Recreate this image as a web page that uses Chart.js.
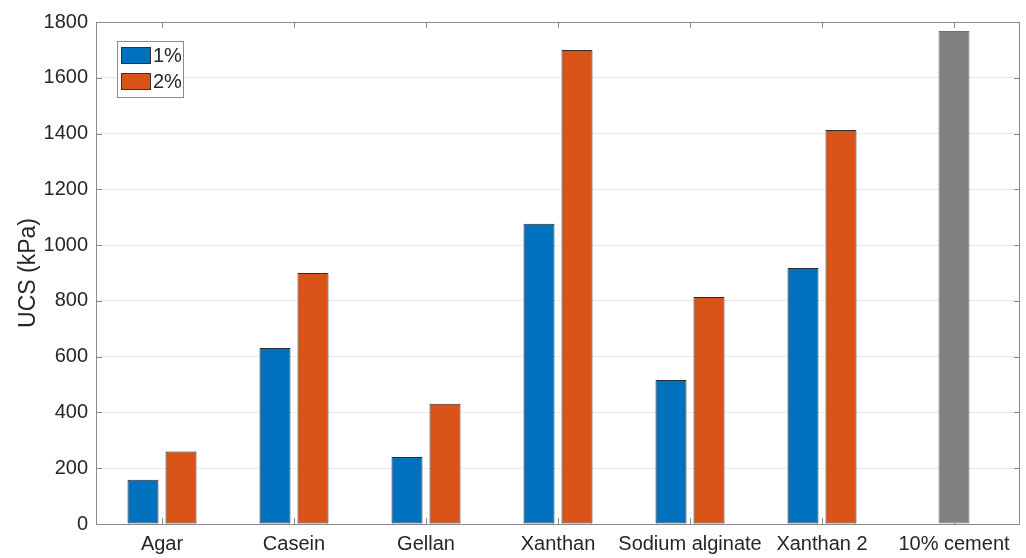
<!DOCTYPE html>
<html>
<head>
<meta charset="utf-8">
<script src="https://cdn.jsdelivr.net/npm/chart.js@4/dist/chart.umd.min.js"></script>
<style>
  html, body { margin: 0; padding: 0; background: #fff; }
  #wrap { width: 1026px; height: 558px; }
</style>
</head>
<body>
<div id="wrap"><canvas id="ucsChart" width="1026" height="558"></canvas></div>
<script>
const categories = ["Agar", "Casein", "Gellan", "Xanthan", "Sodium alginate", "Xanthan 2", "10% cement"];
const ucs1 = [159, 631, 240, 1077, 516, 918, null];
const ucs2 = [260, 900, 431, 1700, 814, 1413, null];
const cement = [null, null, null, null, null, null, 1768];
const yTicks = [0, 200, 400, 600, 800, 1000, 1200, 1400, 1600, 1800];

const FONT = "'Liberation Sans', Arial, Helvetica, sans-serif";
const TEXT = "#262626";
const FRAME = "#8a8a8a";

// box around the plot + inward ticks, like matlab
const boxPlugin = {
    id: "box",
    afterDraw(chart) {
        const { ctx, chartArea: a, scales } = chart;
        ctx.save();
        ctx.strokeStyle = FRAME;
        ctx.lineWidth = 1;
        ctx.strokeRect(a.left + 0.5, a.top + 0.5, a.right - a.left - 1, a.bottom - a.top);
        ctx.beginPath();
        const len = 6;
        scales.y.ticks.forEach((t, i) => {
            const y = Math.round(scales.y.getPixelForTick(i)) + 0.5;
            ctx.moveTo(a.left, y); ctx.lineTo(a.left + len, y);
            ctx.moveTo(a.right, y); ctx.lineTo(a.right - len, y);
        });
        scales.x.ticks.forEach((t, i) => {
            const x = Math.round(scales.x.getPixelForTick(i)) + 0.5;
            ctx.moveTo(x, a.bottom); ctx.lineTo(x, a.bottom - len);
            ctx.moveTo(x, a.top); ctx.lineTo(x, a.top + len);
        });
        ctx.stroke();
        ctx.restore();
    }
};

// legend in the top-left corner with a frame
const legendBox = {
    id: "legendBox",
    afterDraw(chart) {
        const { ctx, chartArea: a } = chart;
        const items = chart.data.datasets.slice(0, 2);
        const x0 = a.left + 21, y0 = a.top + 19;
        const rowH = 26, sw = 30, sh = 17;
        const boxH = 4 + rowH * items.length;
        ctx.save();
        ctx.fillStyle = "#fff";
        ctx.fillRect(x0, y0, 66, boxH);
        ctx.strokeStyle = "#8a8a8a";
        ctx.lineWidth = 1;
        ctx.strokeRect(x0 + 0.5, y0 + 0.5, 66, boxH);
        ctx.font = "20px " + FONT;
        ctx.textBaseline = "middle";
        items.forEach((ds, i) => {
            const y = y0 + 6 + i * rowH;
            ctx.fillStyle = ds.backgroundColor;
            ctx.fillRect(x0 + 4, y, sw, sh);
            ctx.strokeStyle = "#333";
            ctx.strokeRect(x0 + 4.5, y + 0.5, sw - 1, sh - 1);
            ctx.fillStyle = TEXT;
            ctx.fillText(ds.label, x0 + sw + 6, y + sh / 2 + 1);
        });
        ctx.restore();
    }
};

new Chart(document.getElementById("ucsChart"), {
    type: "bar",
    data: {
        labels: categories,
        datasets: [
            { label: "1%", data: ucs1, backgroundColor: "#0072BD", borderColor: "#2b2b2b", borderWidth: 1, borderSkipped: false },
            { label: "2%", data: ucs2, backgroundColor: "#D95319", borderColor: "#2b2b2b", borderWidth: 1, borderSkipped: false },
            { label: "10% cement", data: cement, backgroundColor: "#808080", borderColor: "#707070", borderWidth: 1, borderSkipped: false }
        ]
    },
    options: {
        responsive: false,
        animation: false,
        skipNull: true,
        categoryPercentage: 0.576,
        barPercentage: 0.82,
        maxBarThickness: 31,
        layout: { padding: { top: 22, right: 6, left: 0, bottom: 0 } },
        plugins: {
            legend: { display: false },
            tooltip: { enabled: false }
        },
        scales: {
            x: {
                grid: { display: false, drawTicks: false },
                border: { display: false },
                ticks: { color: TEXT, font: { family: FONT, size: 20 }, padding: 8, maxRotation: 0, autoSkip: false },
                afterFit(s) { s.height = 34; }
            },
            y: {
                min: 0,
                max: 1800,
                afterBuildTicks(s) { s.ticks = yTicks.map(v => ({ value: v })); },
                grid: { color: "#e8e8e8", drawTicks: false },
                border: { display: false },
                ticks: { color: TEXT, font: { family: FONT, size: 20 }, padding: 8, callback: v => String(v) },
                title: { display: true, text: "UCS (kPa)", color: TEXT, font: { family: FONT, size: 23 }, padding: { top: 15, bottom: 0 } },
                afterFit(s) { s.width = 96; }
            }
        }
    },
    plugins: [boxPlugin, legendBox]
});
</script>
</body>
</html>
